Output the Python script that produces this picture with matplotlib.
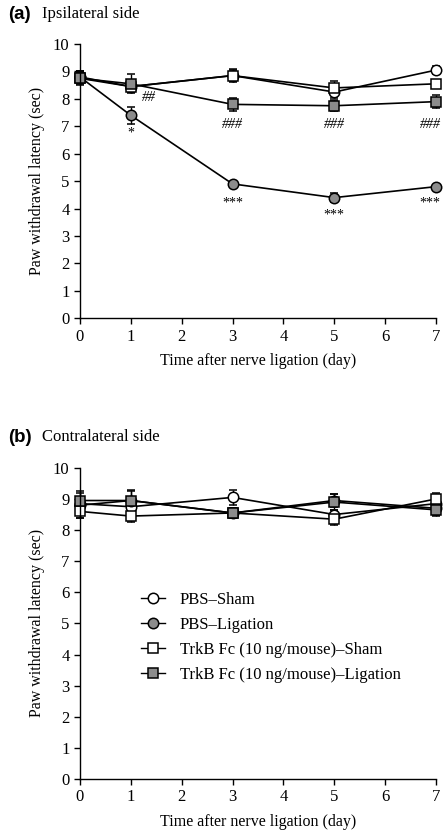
# Paw withdrawal latency after nerve ligation, ipsilateral / contralateral

import matplotlib
matplotlib.use("Agg")
import matplotlib.pyplot as plt
from matplotlib.lines import Line2D

serif = "Liberation Serif"

# data
days = [0, 1, 3, 5, 7]
labels = ["PBS\u2013Sham", "PBS\u2013Ligation",
          "TrkB Fc (10 ng/mouse)\u2013Sham", "TrkB Fc (10 ng/mouse)\u2013Ligation"]

ipsi_pbs_sham = [8.8, 8.45, 8.85, 8.25, 9.05]
ipsi_pbs_lig = [8.8, 7.4, 4.9, 4.4, 4.8]
ipsi_trk_sham = [8.75, 8.45, 8.85, 8.4, 8.55]
ipsi_trk_lig = [8.75, 8.55, 7.8, 7.75, 7.9]

ipsi_pbs_sham_err = [0.2, 0.15, 0.2, 0.2, 0.15]
ipsi_pbs_lig_err = [0.2, 0.3, 0.05, 0.15, 0.05]
ipsi_trk_sham_err = [0.2, 0.2, 0.25, 0.25, 0.15]
ipsi_trk_lig_err = [0.25, 0.35, 0.25, 0.2, 0.25]

contra_pbs_sham = [8.85, 8.75, 9.05, 8.5, 8.85]
contra_pbs_lig = [8.8, 8.95, 8.55, 8.95, 8.7]
contra_trk_sham = [8.6, 8.45, 8.55, 8.35, 9.0]
contra_trk_lig = [8.95, 8.95, 8.55, 8.9, 8.65]

contra_pbs_sham_err = [0.2, 0.2, 0.25, 0.15, 0.15]
contra_pbs_lig_err = [0.4, 0.3, 0.15, 0.2, 0.2]
contra_trk_sham_err = [0.2, 0.2, 0.15, 0.2, 0.2]
contra_trk_lig_err = [0.3, 0.35, 0.15, 0.25, 0.2]

# significance marks (day, y, text)
marks = [(1, 6.75, "*"), (1.35, 8.05, "##"),
         (3, 7.05, "###"), (5, 7.05, "###"), (6.88, 7.05, "###"),
         (3, 4.2, "***"), (5, 3.75, "***"), (6.88, 4.2, "***")]

styles = [dict(marker="o", mfc="white"), dict(marker="o", mfc="#8c8c8c"),
          dict(marker="s", mfc="white"), dict(marker="s", mfc="#8c8c8c")]

fig = plt.figure(figsize=(4.44, 8.31), dpi=100)
ax_a = fig.add_axes([0.18, 0.617, 0.802, 0.330])
ax_b = fig.add_axes([0.18, 0.0626, 0.802, 0.3744])


def draw(ax, series, errs):
    for vals, err, st, lab in zip(series, errs, styles, labels):
        ax.errorbar(days, vals, yerr=err, color="black", lw=1.2,
                    marker=st["marker"], mfc=st["mfc"], mec="black",
                    ms=7.5, mew=1.1, capsize=3, elinewidth=1.0,
                    capthick=1.0, label=lab)
    ax.set_xlim(0, 7)
    ax.set_ylim(0, 10)
    ax.set_xticks(range(8))
    ax.set_yticks(range(11))
    for s in ["top", "right"]:
        ax.spines[s].set_visible(False)
    ax.spines["left"].set_linewidth(1.0)
    ax.spines["bottom"].set_linewidth(1.0)
    ax.tick_params(direction="out", length=4, width=1.0, labelsize=12)
    for t in ax.get_xticklabels() + ax.get_yticklabels():
        t.set_fontfamily(serif)
    ax.set_xlabel("Time after nerve ligation (day)", fontfamily=serif,
                  fontsize=11.5, labelpad=6)
    ax.set_ylabel("Paw withdrawal latency (sec)", fontfamily=serif,
                  fontsize=11.5, labelpad=6)
    for c in ax.collections + ax.lines:
        c.set_clip_on(False)


draw(ax_a, [ipsi_pbs_sham, ipsi_pbs_lig, ipsi_trk_sham, ipsi_trk_lig],
     [ipsi_pbs_sham_err, ipsi_pbs_lig_err, ipsi_trk_sham_err, ipsi_trk_lig_err])
for x, y, t in marks:
    ax_a.text(x, y, t, ha="center", va="center", fontfamily=serif,
              fontsize=10, style="italic" if "#" in t else "normal")

draw(ax_b, [contra_pbs_sham, contra_pbs_lig, contra_trk_sham, contra_trk_lig],
     [contra_pbs_sham_err, contra_pbs_lig_err, contra_trk_sham_err, contra_trk_lig_err])
hs = [Line2D([], [], color="black", lw=1.0, marker=st["marker"],
             mfc=st["mfc"], mec="black", ms=7.5, mew=1.1) for st in styles]
ax_b.legend(hs, labels, loc="center left", bbox_to_anchor=(0.13, 0.455),
            frameon=False, prop={"family": serif, "size": 12},
            handlelength=1.4, handletextpad=0.9, labelspacing=0.55)

fig.text(0.018, 0.983, "(a)", fontfamily="Liberation Sans", fontweight="bold",
         fontsize=13.5, va="center")
fig.text(0.094, 0.983, "Ipsilateral side", fontfamily=serif, fontsize=12, va="center")
fig.text(0.018, 0.474, "(b)", fontfamily="Liberation Sans", fontweight="bold",
         fontsize=13.5, va="center")
fig.text(0.094, 0.474, "Contralateral side", fontfamily=serif, fontsize=12, va="center")

fig.savefig("out.png", dpi=100)
